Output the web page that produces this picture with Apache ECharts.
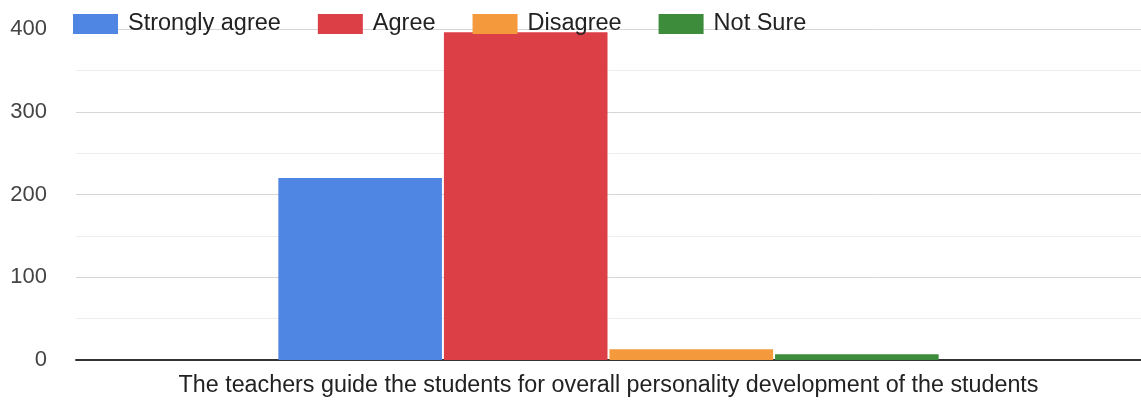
<!DOCTYPE html>
<html>
<head>
<meta charset="utf-8">
<script src="https://cdn.jsdelivr.net/npm/echarts@6/dist/echarts.min.js"></script>
<style>
html,body{margin:0;padding:0;background:#fff;}
#chart{width:1141px;height:404px;}
</style>
</head>
<body>
<div id="chart"></div>
<script>
const categories = ["The teachers guide the students for overall personality development of the students"];
const seriesNames = ["Strongly agree", "Agree", "Disagree", "Not Sure"];
const stronglyAgree = [220];
const agree = [396];
const disagree = [13];
const notSure = [7];
const seriesColors = ["#4f86e3", "#dd3f47", "#f59a3c", "#3c8c3c"];
const yTicks = [0, 100, 200, 300, 400];

const values = [stronglyAgree, agree, disagree, notSure];
const chart = echarts.init(document.getElementById('chart'), null, {renderer: 'canvas'});
chart.setOption({
  animation: false,
  backgroundColor: '#ffffff',
  textStyle: {fontFamily: 'Liberation Sans, Arial, sans-serif'},
  legend: {
    left: 68, top: 7,
    itemWidth: 45, itemHeight: 20, itemGap: 37,
    icon: 'rect',
    backgroundColor: 'rgba(0,0,0,0)',
    textStyle: {fontSize: 23.5, color: '#222', padding: [0, 0, 0, 5]},
    data: seriesNames
  },
  grid: {left: 76, right: 0, top: 29, bottom: 44},
  xAxis: {
    type: 'category',
    data: categories,
    axisTick: {show: false},
    axisLine: {lineStyle: {color: '#333', width: 2}},
    axisLabel: {fontSize: 23.3, color: '#222', margin: 14}
  },
  yAxis: {
    type: 'value',
    min: yTicks[0], max: yTicks[yTicks.length - 1], interval: 100,
    axisLine: {show: false},
    axisTick: {show: false},
    axisLabel: {fontSize: 22, color: '#444', margin: 29},
    splitLine: {lineStyle: {color: '#d6d6d6', width: 1}},
    minorTick: {show: false, splitNumber: 2},
    minorSplitLine: {show: true, lineStyle: {color: '#ececec', width: 1}}
  },
  series: seriesNames.map((n, i) => ({
    name: n,
    type: 'bar',
    data: values[i],
    barGap: '1.2%',
    barCategoryGap: '38%',
    itemStyle: {color: seriesColors[i]}
  }))
});
</script>
</body>
</html>
